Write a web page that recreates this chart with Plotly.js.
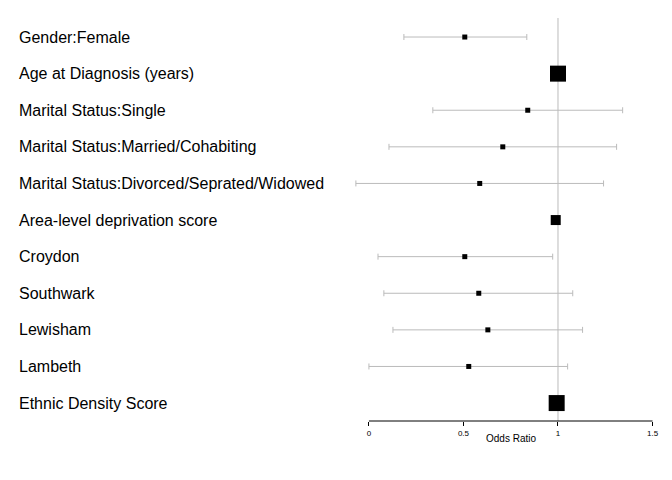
<!DOCTYPE html>
<html>
<head>
<script src="https://cdn.plot.ly/plotly-3.0.1.min.js"></script>
<style>body{margin:0;background:#fff}</style>
</head>
<body>
<div id="graph" style="width:672px;height:480px"></div>
<script>
var labels = ['Gender:Female', 'Age at Diagnosis (years)', 'Marital Status:Single',
  'Marital Status:Married/Cohabiting', 'Marital Status:Divorced/Seprated/Widowed',
  'Area-level deprivation score', 'Croydon', 'Southwark', 'Lewisham', 'Lambeth',
  'Ethnic Density Score'];
var oddsRatio = [0.507, 1.0, 0.84, 0.708, 0.586, 0.988, 0.507, 0.581, 0.629, 0.528, 0.993];
var lower = [0.185, 0.99, 0.338, 0.106, -0.069, 0.98, 0.048, 0.079, 0.127, 0.0, 0.985];
var upper = [0.835, 1.01, 1.342, 1.31, 1.241, 0.995, 0.972, 1.078, 1.13, 1.051, 1.0];
var boxSize = [5, 16, 5, 5, 5, 10, 5, 5, 5, 5, 16];

var rows = labels.map(function(d, i) { return i; });

var ci = {
  x: oddsRatio,
  y: rows,
  mode: 'markers',
  type: 'scatter',
  marker: {size: 0.1, color: 'rgba(0,0,0,0)'},
  error_x: {
    type: 'data', symmetric: false,
    array: oddsRatio.map(function(v, i) { return upper[i] - v; }),
    arrayminus: oddsRatio.map(function(v, i) { return v - lower[i]; }),
    color: '#bbbbbb', thickness: 1, width: 3
  },
  hoverinfo: 'skip'
};

var boxes = {
  x: oddsRatio,
  y: rows,
  mode: 'markers',
  type: 'scatter',
  marker: {symbol: 'square', color: '#000', size: boxSize, opacity: 1, line: {width: 0}},
  hoverinfo: 'x'
};

var annotations = labels.map(function(t, i) {
  return {text: t, xref: 'paper', yref: 'y', x: -0.973, y: i, xanchor: 'left',
    showarrow: false, font: {family: 'Liberation Sans, Arial', size: 16, color: '#000'}};
});
annotations.push({text: 'Odds Ratio', xref: 'x', yref: 'paper', x: 0.75, y: 0,
  yshift: -25, showarrow: false, font: {family: 'Liberation Sans, Arial', size: 10, color: '#000'}});

var layout = {
  showlegend: false,
  margin: {l: 340, r: 0, t: 18, b: 59},
  paper_bgcolor: '#fff', plot_bgcolor: '#fff',
  xaxis: {range: [-0.153, 1.603], tickvals: [0, 0.5, 1, 1.5], ticktext: ['0', '0.5', '1', '1.5'],
    ticks: 'outside', ticklen: 4, tickcolor: '#000', showgrid: false, zeroline: false,
    showline: false, tickfont: {family: 'Liberation Sans, Arial', size: 8, color: '#000'}},
  yaxis: {range: [10.49, -0.52], showticklabels: false, showgrid: false, zeroline: false, ticks: ''},
  shapes: [
    {type: 'line', xref: 'x', yref: 'paper', x0: 1, x1: 1, y0: 0, y1: 1,
      line: {color: '#bbbbbb', width: 1}, layer: 'below'},
    {type: 'line', xref: 'x', yref: 'paper', x0: 0, x1: 1.5, y0: 0, y1: 0,
      line: {color: '#000', width: 1}}
  ],
  annotations: annotations
};

Plotly.newPlot('graph', [ci, boxes], layout, {displayModeBar: false});
</script>
</body>
</html>
